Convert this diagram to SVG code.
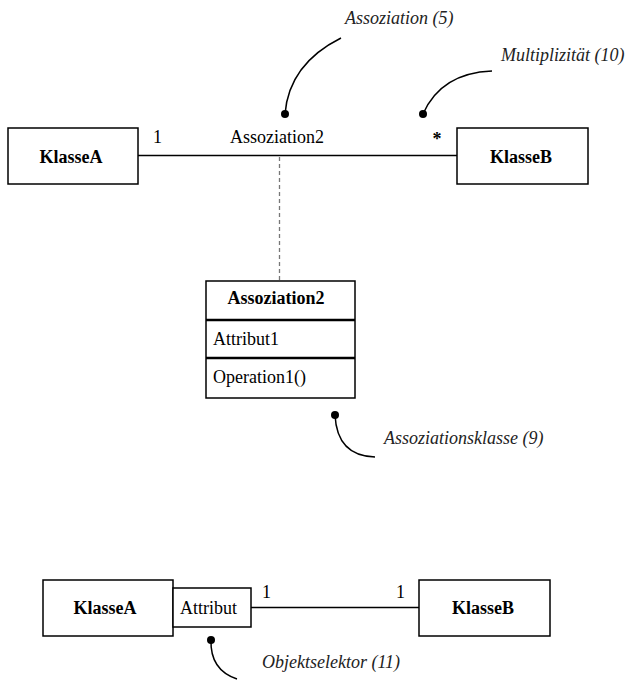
<svg xmlns="http://www.w3.org/2000/svg" width="627" height="680" viewBox="0 0 627 680">
  <style>
    .box { fill: #fff; stroke: #000; stroke-width: 1.5; }
    .sep { stroke: #000; stroke-width: 2.5; }
    .line { fill: none; stroke: #000; stroke-width: 1.5; }
    .dash { fill: none; stroke: #777; stroke-width: 1.3; stroke-dasharray: 4 3; }
    .lead { fill: none; stroke: #000; stroke-width: 1.5; }
    .dot { fill: #000; }
    text { font-family: "Liberation Serif", "Times New Roman", serif; font-size: 18px; fill: #000; }
    .name { font-weight: bold; text-anchor: middle; }
    .note { font-style: italic; fill: #222; }
  </style>

  <!-- associations and link to the association class -->
  <g id="connectors">
    <line class="line" x1="138" y1="155.5" x2="457" y2="155.5"/>
    <line class="dash" x1="279.5" y1="157" x2="279.5" y2="281"/>
    <line class="line" x1="251" y1="607.5" x2="419" y2="607.5"/>
  </g>

  <!-- association labels and multiplicities -->
  <g id="labels">
    <text x="153" y="143">1</text>
    <text x="230" y="143">Assoziation2</text>
    <text class="name" x="437" y="145">*</text>
    <text x="262" y="598">1</text>
    <text x="396" y="598">1</text>
  </g>

  <g id="klasseA-top">
    <rect class="box" x="8" y="128" width="130" height="56"/>
    <text class="name" x="71" y="163">KlasseA</text>
  </g>

  <g id="klasseB-top">
    <rect class="box" x="457" y="128" width="131" height="56"/>
    <text class="name" x="521" y="163">KlasseB</text>
  </g>

  <g id="assoziation2-class">
    <rect class="box" x="206" y="281" width="149" height="117"/>
    <line class="sep" x1="206" y1="320" x2="355" y2="320"/>
    <line class="sep" x1="206" y1="358" x2="355" y2="358"/>
    <text class="name" x="276" y="304">Assoziation2</text>
    <text x="213" y="345">Attribut1</text>
    <text x="213" y="383">Operation1()</text>
  </g>

  <g id="klasseA-bottom">
    <rect class="box" x="43" y="580" width="130" height="56"/>
    <text class="name" x="105" y="614">KlasseA</text>
  </g>

  <g id="attribut-qualifier">
    <rect class="box" x="173" y="588" width="78" height="39"/>
    <text x="180" y="614">Attribut</text>
  </g>

  <g id="klasseB-bottom">
    <rect class="box" x="419" y="580" width="131" height="56"/>
    <text class="name" x="483" y="614">KlasseB</text>
  </g>

  <!-- annotation callouts -->
  <g id="note-assoziation">
    <path class="lead" d="M341,38 Q289,64 285,114"/>
    <circle class="dot" cx="285" cy="114" r="4"/>
    <text class="note" x="345" y="24">Assoziation (5)</text>
  </g>

  <g id="note-multiplizitaet">
    <path class="lead" d="M492,71 Q441,73 423,114"/>
    <circle class="dot" cx="423" cy="114" r="4"/>
    <text class="note" x="501" y="61">Multiplizität (10)</text>
  </g>

  <g id="note-assoziationsklasse">
    <path class="lead" d="M335,415 Q337,456 375,457"/>
    <circle class="dot" cx="335" cy="415" r="4"/>
    <text class="note" x="384" y="444">Assoziationsklasse (9)</text>
  </g>

  <g id="note-objektselektor">
    <path class="lead" d="M211,640 Q210,670 237,679"/>
    <circle class="dot" cx="211" cy="640" r="4"/>
    <text class="note" x="262" y="668">Objektselektor (11)</text>
  </g>
</svg>
